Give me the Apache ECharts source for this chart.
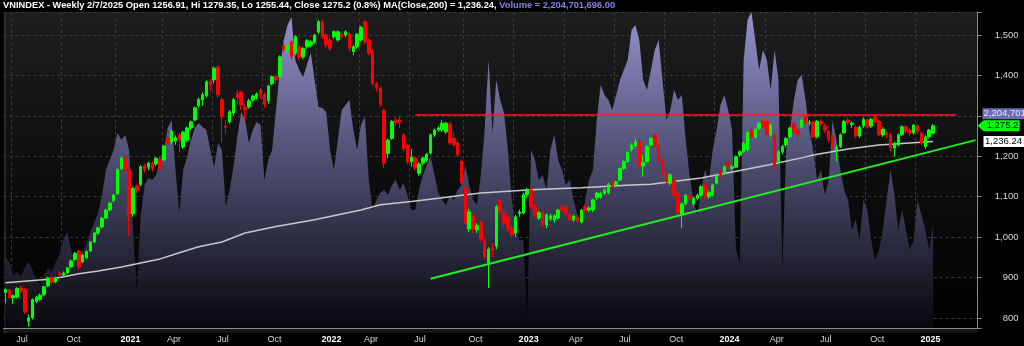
<!DOCTYPE html>
<html><head><meta charset="utf-8">
<script src="https://cdn.jsdelivr.net/npm/echarts@6/dist/echarts.min.js"></script>
<style>html,body{margin:0;padding:0;background:#000;}#c{width:1024px;height:346px;}</style>
</head><body><div id="c"></div>
<script>
// ---------- data ----------
const symbol = 'VNINDEX';
const startDate = '2020-06-19';
const skippedWeeks = ['2022-02-04', '2025-01-31'];
const dateOverrides = { '2021-01-01': '2020-12-31' };
const futureSlots = 11;
const monthNames = ['Jan','Feb','Mar','Apr','May','Jun','Jul','Aug','Sep','Oct','Nov','Dec'];
const priceTicks = [800, 900, 1000, 1100, 1200, 1300, 1400, 1500];

// weekly candles: [open, close, low, high]
const ohlc = [
[863,870,836,873],[869,850,846,873],[850,855,835,858],[851,873,848,876],[874,868,862,880],[870,815,810,875],[792,800,778,808],[800,845,796,848],[841,851,836,855],[846,856,842,860],
[857,877,854,879],[879,899,876,902],[900,888,884,905],[889,899,886,902],[911,906,900,915],[906,911,902,915],[911,924,909,926],[926,941,923,944],[944,960,941,963],[965,926,920,968],
[939,956,936,958],[949,964,945,967],[966,988,963,990],[988,1010,985,1012],[1010,1023,1005,1026],[1025,1047,1021,1050],[1047,1067,1044,1070],[1067,1084,1063,1087],[1090,1104,1086,1107],[1107,1168,1105,1170],
[1170,1196,1166,1200],[1196,1166,1160,1199],[1166,1056,1003,1170],[1058,1120,1050,1125],[1127,1115,1108,1130],[1130,1174,1126,1178],[1176,1166,1160,1182],[1173,1183,1165,1186],[1183,1170,1162,1188],[1181,1195,1176,1198],
[1192,1170,1160,1200],[1191,1225,1188,1228],[1245,1233,1225,1250],[1235,1262,1230,1266],[1238,1246,1228,1252],[1253,1241,1210,1258],[1223,1260,1218,1263],[1240,1270,1235,1273],[1270,1285,1265,1288],[1290,1320,1287,1323],
[1325,1340,1320,1345],[1340,1352,1325,1358],[1350,1384,1345,1388],[1385,1378,1362,1392],[1389,1418,1380,1422],[1421,1352,1345,1425],[1340,1297,1235,1345],[1275,1272,1255,1290],[1285,1310,1280,1315],[1307,1340,1300,1345],
[1355,1345,1330,1365],[1359,1327,1315,1362],[1322,1315,1290,1328],[1322,1337,1318,1342],[1339,1349,1335,1352],[1346,1354,1340,1358],[1364,1351,1342,1368],[1354,1329,1320,1358],[1338,1374,1330,1377],[1379,1397,1375,1400],
[1397,1389,1380,1400],[1397,1446,1392,1450],[1473,1465,1458,1478],[1459,1475,1455,1478],[1483,1446,1440,1486],[1455,1496,1450,1500],[1471,1445,1438,1475],[1446,1467,1440,1470],[1471,1486,1466,1490],[1475,1483,1470,1487],
[1483,1500,1478,1503],[1508,1533,1503,1537],[1533,1496,1490,1537],[1500,1475,1468,1503],[1488,1467,1460,1492],[1496,1508,1490,1512],[1488,1508,1484,1512],[1502,1496,1490,1506],[1500,1508,1494,1512],[1502,1467,1460,1506],
[1459,1471,1450,1475],[1471,1502,1466,1505],[1488,1519,1484,1523],[1533,1483,1478,1537],[1488,1455,1450,1492],[1459,1380,1375,1463],[1379,1368,1360,1385],[1368,1329,1322,1372],[1314,1183,1170,1318],[1207,1240,1195,1244],
[1244,1286,1240,1290],[1290,1283,1275,1296],[1290,1283,1270,1300],[1253,1218,1212,1258],[1228,1186,1180,1232],[1186,1198,1174,1218],[1196,1171,1165,1200],[1158,1181,1152,1185],[1183,1196,1178,1199],[1191,1205,1186,1208],
[1208,1253,1204,1256],[1253,1265,1248,1268],[1265,1270,1260,1274],[1265,1282,1260,1290],[1260,1282,1255,1285],[1280,1233,1228,1285],[1245,1228,1222,1258],[1233,1203,1198,1238],[1188,1134,1130,1192],[1124,1035,1030,1128],
[1020,1062,1012,1070],[1052,1020,1010,1058],[1018,1028,1010,1035],[1035,995,988,1040],[993,951,945,998],[936,970,874,975],[973,968,950,985],[978,1075,970,1080],[1090,1062,1055,1096],[1060,1035,1025,1066],
[1050,1020,1012,1058],[1023,1005,998,1030],[1010,1050,1000,1055],[1058,1062,1050,1068],[1060,1105,1055,1110],[1105,1117,1098,1122],[1117,1075,1068,1122],[1075,1055,1048,1080],[1047,1060,1042,1065],[1060,1030,1025,1066],
[1030,1055,1022,1058],[1045,1052,1040,1058],[1042,1052,1035,1056],[1047,1067,1043,1070],[1075,1067,1060,1080],[1074,1057,1050,1080],[1055,1042,1038,1060],[1042,1052,1038,1056],[1050,1040,1035,1055],[1037,1067,1033,1070],
[1075,1067,1060,1080],[1067,1072,1062,1076],[1067,1092,1062,1095],[1097,1109,1092,1112],[1099,1108,1095,1112],[1108,1117,1104,1120],[1110,1131,1106,1134],[1137,1125,1120,1140],[1129,1137,1124,1140],[1141,1170,1138,1172],
[1170,1187,1166,1190],[1187,1209,1184,1212],[1216,1228,1212,1232],[1226,1236,1220,1245],[1236,1176,1170,1245],[1176,1184,1150,1203],[1187,1225,1184,1228],[1228,1244,1225,1248],[1253,1228,1222,1256],[1225,1191,1185,1228],
[1191,1156,1150,1195],[1156,1137,1130,1160],[1133,1154,1128,1158],[1141,1104,1098,1148],[1108,1059,1052,1112],[1055,1082,1022,1085],[1082,1104,1078,1106],[1104,1096,1090,1110],[1082,1096,1078,1100],[1096,1104,1090,1108],
[1104,1125,1100,1128],[1129,1100,1095,1133],[1100,1110,1095,1115],[1104,1129,1100,1132],[1133,1150,1130,1153],[1160,1154,1148,1168],[1158,1174,1155,1178],[1184,1173,1168,1188],[1170,1174,1165,1180],[1173,1199,1170,1202],
[1203,1211,1198,1215],[1211,1232,1208,1236],[1216,1259,1212,1262],[1265,1248,1244,1270],[1247,1267,1243,1270],[1269,1282,1265,1285],[1286,1273,1268,1290],[1286,1255,1250,1290],[1253,1277,1248,1282],[1253,1174,1168,1256],
[1187,1211,1180,1215],[1211,1224,1205,1228],[1228,1244,1222,1248],[1248,1270,1244,1273],[1282,1261,1255,1286],[1265,1253,1240,1270],[1272,1290,1268,1293],[1298,1283,1278,1302],[1282,1283,1275,1290],[1283,1248,1244,1288],
[1248,1286,1244,1290],[1286,1280,1275,1292],[1275,1265,1258,1280],[1261,1240,1235,1265],[1248,1232,1220,1252],[1216,1222,1187,1228],[1224,1253,1220,1256],[1258,1286,1255,1290],[1290,1283,1278,1296],[1278,1282,1270,1286],
[1272,1250,1245,1277],[1250,1272,1245,1276],[1275,1291,1270,1296],[1290,1273,1268,1294],[1275,1291,1270,1295],[1298,1286,1280,1302],[1286,1253,1250,1290],[1253,1267,1248,1272],[1257,1253,1245,1262],[1253,1220,1212,1258],
[1220,1232,1199,1236],[1228,1253,1224,1256],[1253,1273,1250,1277],[1273,1261,1255,1277],[1265,1257,1250,1269],[1258,1277,1253,1280],[1275,1261,1255,1279],[1257,1232,1228,1261],[1224,1248,1218,1252],[1248,1265,1244,1268],
[1256.91,1275.2,1255.44,1279.35]
];

// weekly volume, millions of shares
const volume = [
1528,1420,1141,1205,1119,1291,1420,1248,1033,925,
1141,1291,1205,1420,1571,1894,2066,1679,1420,1506,
1679,1786,2066,2281,2475,2862,3400,3615,3831,4196,
4046,4153,3831,2109,818,2400,3077,3228,3185,3293,
3615,3831,4304,4476,3400,2475,3400,3680,4046,4304,
4412,4326,4261,3831,3465,3981,3831,2604,2970,3465,
4110,4648,4476,3981,4261,4433,4369,3185,3615,3831,
4691,5552,6198,6521,6693,5767,5552,5402,5660,5918,
5337,4756,4734,4648,3831,3400,4046,4691,4799,4907,
4261,3831,4369,4541,3185,2539,2755,2905,2970,2862,
3077,3185,2970,3120,2862,2539,2539,2970,3293,3508,
3680,3293,2905,2755,2647,2862,2755,2970,3077,3508,
3077,2755,2647,3293,4261,5767,4196,5337,4907,4627,
3831,2755,2109,1894,1900,200,3831,3615,3185,3293,
2970,3831,4153,3615,3400,3077,3185,2755,2432,2217,
2755,3185,3400,4476,5229,5014,4907,4691,5014,5337,
5552,5767,6413,6521,6198,5337,5122,5552,5983,6198,
5337,4476,4691,5122,4907,5014,4046,3293,2755,2432,
2970,3400,3185,3831,4261,4799,5014,4691,4261,1700,
1400,5767,6628,6800,6198,5552,5983,5767,5122,5983,
5337,1248,3831,4261,4907,5337,5445,4907,4261,3831,
3185,3400,2862,3185,4476,4046,3400,2970,2755,2109,
2324,1894,2755,2539,1894,1463,1679,2109,2755,3400,
2862,2109,2539,2109,1679,1894,2755,2432,2109,1679,
2205
];
const lastVolume = 2204701696;

// MA(Close,200): [week, value]
const ma200 = [
['2020-06-19',887],['2020-09-11',896],['2020-10-30',909],['2020-12-04',916],['2021-01-15',926],
['2021-02-19',936],['2021-03-26',946],['2021-04-30',961],['2021-06-04',976],['2021-07-16',988],
['2021-08-27',1010],['2021-10-22',1026],['2021-12-31',1043],['2022-02-25',1057],['2022-04-01',1067],
['2022-05-06',1080],['2022-07-01',1088],['2022-08-19',1096],['2022-11-04',1109],['2023-02-03',1117],
['2023-05-05',1122],['2023-08-04',1129],['2023-09-08',1131],['2023-12-08',1146],['2024-02-02',1161],
['2024-04-05',1178],['2024-06-07',1196],['2024-06-28',1203],['2024-08-30',1218],['2024-10-25',1228],
['2025-02-07',1236.24]
];
// drawn study lines
const resistanceLine = [['2022-07-08',1302],['2025-03-21',1302]];
const trendLine = [['2022-08-05',897],['2025-04-25',1240]];

const titleInfo = { date: '2/7/2025', change: '(0.8%)' };

// ---------- categories ----------
const cats = [];
{
  let d = new Date(startDate + 'T00:00:00Z');
  while (cats.length < ohlc.length + futureSlots) {
    const s = d.toISOString().slice(0, 10);
    if (!skippedWeeks.includes(s)) cats.push(dateOverrides[s] || s);
    d = new Date(d.getTime() + 7 * 864e5);
  }
}
function quarterStart(idx) {
  if (idx <= 0 || idx >= ohlc.length) return false;
  const m = +cats[idx].slice(5, 7), pm = +cats[idx - 1].slice(5, 7);
  return m !== pm && (m - 1) % 3 === 0;
}

// ---------- chart ----------
const FONT = 'Liberation Sans, Arial, sans-serif';
const gridLeft = 3.5, gridRight = 46.5, gridTop = 12, gridBottom = 18;
const chart = echarts.init(document.getElementById('c'), null, { width: 1024, height: 346 });
const last = ohlc[ohlc.length - 1];
const maLast = ma200[ma200.length - 1][1];
const fmt = (v, d) => v.toLocaleString('en-US', { minimumFractionDigits: d, maximumFractionDigits: d });

const titleMain = `${symbol} - Weekly ${titleInfo.date} Open ${last[0]}, Hi ${last[3]}, Lo ${last[2]}, Close ${last[1]} ${titleInfo.change} MA(Close,200) = ${fmt(maLast, 2)}, `;
const titleVol = `Volume = ${fmt(lastVolume, 2)}`;

const option = {
  animation: false,
  backgroundColor: '#000',
  title: {
    text: `{w|${titleMain}}{v|${titleVol}}`,
    left: 3, top: 1, padding: 0,
    textStyle: { rich: {
      w: { color: '#ffffff', fontSize: 9.3, fontFamily: FONT },
      v: { color: '#8484ee', fontSize: 9.3, fontFamily: FONT }
    } }
  },
  grid: {
    left: gridLeft, right: gridRight, top: gridTop, bottom: gridBottom,
    outerBoundsMode: 'none', containLabel: false,
    show: true, borderWidth: 0,
    backgroundColor: new echarts.graphic.LinearGradient(0, 0, 0, 1, [
      { offset: 0, color: '#1d1d1d' }, { offset: 1, color: '#000000' }
    ])
  },
  xAxis: {
    type: 'category', data: cats, boundaryGap: true, offset: 5,
    axisLine: { show: true, lineStyle: { color: '#8a8a8a', width: 1 } },
    axisTick: { show: true, inside: true, length: 5, alignWithLabel: true, interval: quarterStart, lineStyle: { color: '#8a8a8a' } },
    axisLabel: {
      interval: quarterStart, align: 'left', padding: [0, 0, 0, 3], margin: 2,
      color: '#d8d8d8', fontSize: 9, fontFamily: FONT,
      formatter: (v) => {
        const m = +v.slice(5, 7);
        return m === 1 ? `{y|${v.slice(0, 4)}}` : monthNames[m - 1];
      },
      rich: { y: { fontWeight: 'bold', color: '#ffffff', fontSize: 9, fontFamily: FONT } }
    },
    splitLine: { show: true, interval: quarterStart, lineStyle: { color: '#3a3a3a', type: [3, 3], width: 1 } }
  },
  yAxis: [
    {
      type: 'value', position: 'right', min: 775, max: 1557, splitNumber: 8,
      axisLine: { show: true, lineStyle: { color: '#8a8a8a' } },
      axisTick: { show: true, length: 4, lineStyle: { color: '#8a8a8a' } },
      axisLabel: {
        color: '#d8d8d8', fontSize: 9.5, fontFamily: FONT, align: 'right', margin: 41,
        formatter: (v) => priceTicks.includes(v) ? fmt(v, 0) : ''
      },
      splitLine: { show: true, lineStyle: { color: '#3a3a3a', type: [3, 3], width: 1 } }
    },
    { type: 'value', min: 0, max: 6800, show: false, splitLine: { show: false } }
  ],
  series: [
    {
      name: 'Volume', type: 'line', yAxisIndex: 1, data: volume, symbol: 'none', silent: true, z: 1,
      lineStyle: { width: 0, opacity: 0 },
      areaStyle: { opacity: 1, color: new echarts.graphic.LinearGradient(0, gridTop, 0, 346 - gridBottom, [
        { offset: 0, color: '#9492cc' }, { offset: 0.5, color: '#4a4a6c' }, { offset: 1, color: '#07070c' }
      ], true) }
    },
    {
      name: 'MA200', type: 'line', data: ma200, symbol: 'none', z: 2, silent: true,
      lineStyle: { color: '#c8c8c8', width: 1.5 }
    },
    {
      name: symbol, type: 'candlestick', data: ohlc, barWidth: 3, z: 3,
      itemStyle: { color: '#00ff00', color0: '#ff0000', borderColor: '#00ff00', borderColor0: '#ff0000', borderColorDoji: '#00ff00', borderWidth: 1 }
    },
    {
      name: 'Resistance', type: 'line', data: resistanceLine, symbol: 'none', z: 4, silent: true,
      lineStyle: { color: '#ff1a1a', width: 1.5 }
    },
    {
      name: 'Trend', type: 'line', data: trendLine, symbol: 'none', z: 4, silent: true,
      lineStyle: { color: '#22ee22', width: 2 }
    }
  ]
};
chart.setOption(option);

// right-axis value tags and frame details
const axisX = 1024 - gridRight;
const plotBottom = 346 - gridBottom;
const yClose = chart.convertToPixel({ yAxisIndex: 0 }, last[1]);
const yMA = chart.convertToPixel({ yAxisIndex: 0 }, maLast);
const yVol = yClose - 12;
const h = 5.5;
chart.setOption({
  graphic: [
    { type: 'rect', shape: { x: gridLeft, y: plotBottom, width: axisX - gridLeft, height: 5 }, style: { fill: '#161616' }, z: 0, silent: true },
    { type: 'line', shape: { x1: gridLeft + 1.5, y1: gridTop, x2: gridLeft + 1.5, y2: plotBottom + 5 }, style: { stroke: '#3c3c3c', lineWidth: 1 }, z: 0, silent: true },
    { type: 'rect', shape: { x: axisX + 5, y: yVol - h, width: 48, height: 2 * h }, style: { fill: '#6c6cb0' }, z: 100 },
    { type: 'text', x: axisX + 6, y: yVol, style: { text: fmt(lastVolume, 0).slice(0, 9), fill: '#e4e4ff', font: `9.5px ${FONT}`, textVerticalAlign: 'middle', textAlign: 'left' }, z: 101 },
    { type: 'polygon', shape: { points: [[axisX, yClose], [axisX + 6, yClose - h], [axisX + 42, yClose - h], [axisX + 42, yClose + h], [axisX + 6, yClose + h]] }, style: { fill: '#00ff00' }, z: 100 },
    { type: 'text', x: axisX + 25, y: yClose, style: { text: fmt(last[1], 1), fill: '#000', font: `9.5px ${FONT}`, textVerticalAlign: 'middle', textAlign: 'center' }, z: 101 },
    { type: 'rect', shape: { x: axisX + 6, y: yMA - h, width: 42, height: 2 * h }, style: { fill: '#ffffff' }, z: 100 },
    { type: 'text', x: axisX + 26, y: yMA, style: { text: fmt(maLast, 2), fill: '#000', font: `9.5px ${FONT}`, textVerticalAlign: 'middle', textAlign: 'center' }, z: 101 }
  ]
});
</script>
</body></html>
